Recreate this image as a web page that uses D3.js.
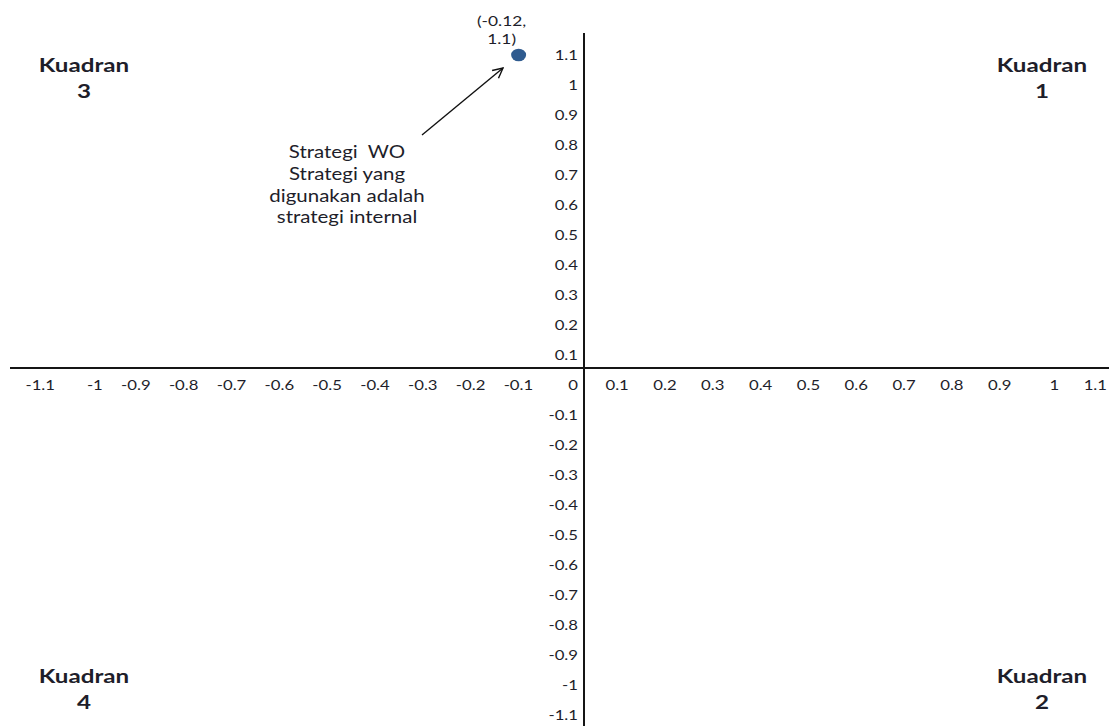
<!DOCTYPE html>
<html>
<head>
<meta charset="utf-8">
<script src="https://cdn.jsdelivr.net/npm/d3@7"></script>
<style>
  body { margin: 0; background: #fff; }
  svg { display: block; }
</style>
</head>
<body>
<div id="chart"></div>
<script>
// ===== data =====
const xTicks = [-1.1, -1, -0.9, -0.8, -0.7, -0.6, -0.5, -0.4, -0.3, -0.2, -0.1,
  0.1, 0.2, 0.3, 0.4, 0.5, 0.6, 0.7, 0.8, 0.9, 1, 1.1]
const yTicks = [1.1, 1, 0.9, 0.8, 0.7, 0.6, 0.5, 0.4, 0.3, 0.2, 0.1, 0,
  -0.1, -0.2, -0.3, -0.4, -0.5, -0.6, -0.7, -0.8, -0.9, -1, -1.1]
const points = [{x: -0.12, y: 1.1, label: ["(-0.12,", "1.1)"]}]
const quadrants = [
  {name: "Kuadran", num: "3", side: "left", row: "top"},
  {name: "Kuadran", num: "1", side: "right", row: "top"},
  {name: "Kuadran", num: "4", side: "left", row: "bottom"},
  {name: "Kuadran", num: "2", side: "right", row: "bottom"}
]
const noteLines = ["Strategi  WO", "Strategi yang", "digunakan adalah", "strategi internal"]

// ===== layout =====
const width = 1109, height = 726
const axisX = 584, axisY = 368
const SX = 1.24   // the original picture is stretched sideways
const font = "Lato, Carlito, 'Open Sans', sans-serif"
const ink = "#1e1e2a"

const svg = d3.select("#chart").append("svg")
  .attr("width", width).attr("height", height)

const x = d3.scaleLinear().domain([-1.1, 1.1]).range([50, 1102])
const y = d3.scaleLinear().domain([-1.1, 1.1]).range([715, 55])

const at = (px, py) => `translate(${px},${py}) scale(${SX},1)`

const label = (sel, size) => sel
  .attr("font-family", font)
  .attr("font-size", size)
  .attr("fill", ink)
  .attr("dominant-baseline", "central")

// axes lines
svg.append("line")
  .attr("x1", 10).attr("x2", width)
  .attr("y1", axisY).attr("y2", axisY)
  .attr("stroke", "#151515").attr("stroke-width", 2)
svg.append("line")
  .attr("x1", axisX).attr("x2", axisX)
  .attr("y1", 33).attr("y2", height)
  .attr("stroke", "#151515").attr("stroke-width", 2)

// x tick labels (right-aligned on their value)
svg.append("g").selectAll("text")
  .data(xTicks).join("text")
  .attr("transform", d => at(x(d) + 5, 385))
  .attr("text-anchor", "end")
  .text(d => String(d))
  .call(label, 13.5)

// y tick labels
svg.append("g").selectAll("text")
  .data(yTicks).join("text")
  .attr("transform", d => at(axisX - 6, y(d)))
  .attr("text-anchor", "end")
  .text(d => String(d))
  .call(label, 13.5)

// arrow annotation
svg.append("defs").append("marker")
  .attr("id", "arrow")
  .attr("viewBox", "0 0 12 12")
  .attr("refX", 11).attr("refY", 6)
  .attr("markerWidth", 12).attr("markerHeight", 12)
  .attr("markerUnits", "userSpaceOnUse")
  .attr("orient", "auto")
  .append("path")
  .attr("d", "M1,1 L11,6 L1,11")
  .attr("fill", "none").attr("stroke", "#111").attr("stroke-width", 1.4)

svg.append("line")
  .attr("x1", 422).attr("y1", 135)
  .attr("x2", 503).attr("y2", 68)
  .attr("stroke", "#111").attr("stroke-width", 1.4)
  .attr("marker-end", "url(#arrow)")

svg.append("g").selectAll("text")
  .data(noteLines).join("text")
  .attr("transform", (d, i) => at(347, 152 + i * 21.7))
  .attr("text-anchor", "middle")
  .style("white-space", "pre")
  .text(d => d)
  .call(label, 16.5)

// point
const pts = svg.append("g")
pts.selectAll("ellipse")
  .data(points).join("ellipse")
  .attr("cx", d => x(d.x)).attr("cy", d => y(d.y))
  .attr("rx", 7.5).attr("ry", 6.3)
  .attr("fill", "#2f5b8f")

points.forEach(p => {
  pts.append("g").selectAll("text")
    .data(p.label).join("text")
    .attr("transform", (d, i) => at(x(p.x) - 17, 20 + i * 18))
    .attr("text-anchor", "middle")
    .text(d => d)
    .call(label, 14)
})

// quadrant labels
const qx = d => d.side === "left" ? 84 : 1042
const qy = d => d.row === "top" ? 64 : 675
const qg = svg.append("g").selectAll("g")
  .data(quadrants).join("g")
  .attr("font-weight", "bold")
  .attr("text-anchor", "middle")
qg.append("text")
  .attr("transform", d => at(qx(d), qy(d)))
  .text(d => d.name)
  .call(label, 19.5)
qg.append("text")
  .attr("transform", d => at(qx(d), qy(d) + 26.5))
  .text(d => d.num)
  .call(label, 19.5)
</script>
</body>
</html>
